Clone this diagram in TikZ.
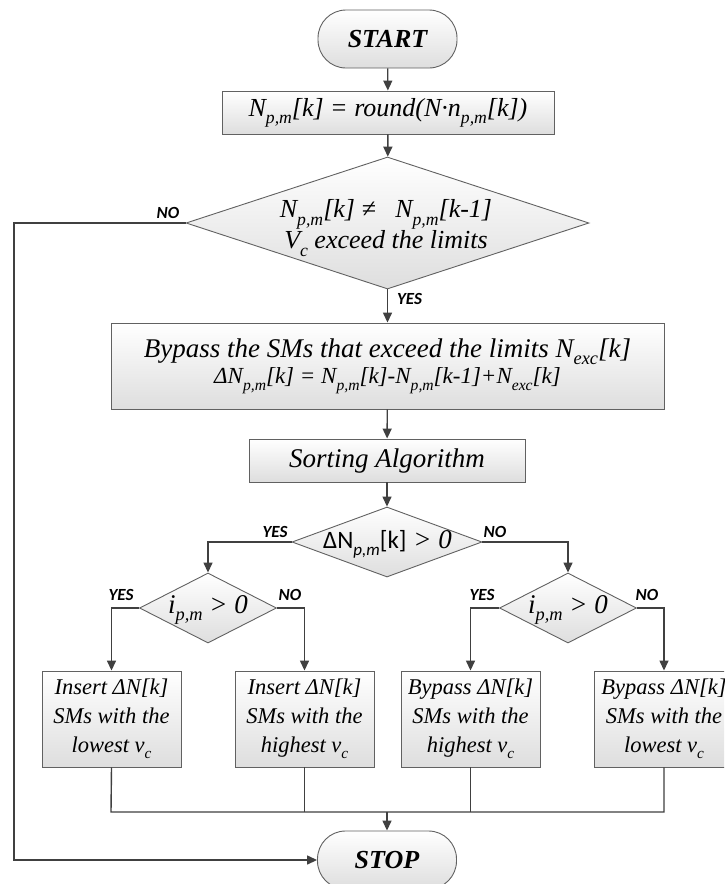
\documentclass[tikz,border=0pt]{standalone}
\usepackage{fontspec}
\usepackage{graphicx}
\setmainfont{Liberation Serif}
\newfontfamily\labfont{Carlito}
\usetikzlibrary{shapes.geometric,arrows.meta}
\newcommand\lo[1]{\raisebox{-0.28em}{\scalebox{0.68}{#1}}}
\newcommand\fsz[1]{\fontsize{#1}{#1}\selectfont}
\tikzset{
 boxshape/.style={draw=black!62, line width=0.9pt, top color=white, bottom color=black!13, inner sep=0pt, align=center},
 rbox/.style={boxshape, rectangle},
 term/.style={boxshape, rectangle, rounded corners=28pt, minimum width=139pt, minimum height=58pt, font=\fsz{26}\bfseries\itshape},
 dia/.style={boxshape, diamond},
 small/.style={rbox, minimum width=139pt, minimum height=96pt, font=\fontsize{22.5}{29}\selectfont\itshape},
 txt/.style={inner sep=0pt, align=center},
 conn/.style={draw=black!75, line width=1.4pt},
 arr/.style={conn, -{Triangle[length=10pt,width=9pt]}},
 yn/.style={font=\labfont\fsz{17}\bfseries\itshape, inner sep=0pt},
}
\begin{document}
\begin{tikzpicture}[x=1pt,y=-1pt]
\useasboundingbox (0,0) rectangle (724,884);
\clip (0,0) rectangle (724,884);
\fill[white] (0,0) rectangle (724,884);

% nodes
\node[term] (start) at (387.5,39) {START};
\node[rbox, minimum width=332pt, minimum height=43pt, font=\fsz{26}\itshape] (b1) at (388,112.5) {N\lo{p,m}[k] = round(N·n\lo{p,m}[k])};
\node[dia, minimum width=403pt, minimum height=132pt] (d1) at (387.5,223) {};
\node[txt, font=\fontsize{26}{31}\selectfont\itshape] (d1t) at (386,228) {N\lo{p,m}[k] ≠ \ \ N\lo{p,m}[k-1]\\V\lo{c} exceed the limits};
\node[rbox, minimum width=553pt, minimum height=86pt] (b2) at (387.5,366)
 {{\fontsize{27}{30}\selectfont\itshape Bypass the SMs that exceed the limits N\lo{exc}[k]}\\[2pt]
  {\fontsize{23}{28}\selectfont\itshape ΔN\lo{p,m}[k] = N\lo{p,m}[k]-N\lo{p,m}[k-1]+N\lo{exc}[k]}};
\node[rbox, minimum width=276pt, minimum height=43pt, font=\fsz{27}\itshape] (b3) at (387,460.5) {Sorting Algorithm};
\node[dia, minimum width=190pt, minimum height=70pt] (d2) at (387,542) {};
\node[txt] (d2t) at (387.5,544) {{\labfont\fsz{25}ΔN\lo{\itshape p,m}[k]}{\fsz{27}\itshape\ > 0}};
\node[dia, minimum width=137pt, minimum height=70pt] (d3) at (208,608) {};
\node[txt, font=\fsz{27}\itshape] (d3t) at (208,610) {i\lo{p,m} > 0};
\node[dia, minimum width=137pt, minimum height=70pt] (d4) at (568,608) {};
\node[txt, font=\fsz{27}\itshape] (d4t) at (568,610) {i\lo{p,m} > 0};

\node[small] (s1) at (111.5,719) {Insert ΔN[k]\\SMs with the\\lowest v\lo{c}};
\node[small] (s2) at (304.5,719) {Insert ΔN[k]\\SMs with the\\highest v\lo{c}};
\node[small] (s3) at (470.5,719) {Bypass ΔN[k]\\SMs with the\\highest v\lo{c}};
\node[small] (s4) at (664,719) {Bypass ΔN[k]\\SMs with the\\lowest v\lo{c}};

\node[term] (stop) at (387,860) {STOP};

% junction coordinates
\coordinate (noL) at (14,223);
\coordinate (noB) at (14,860);
\coordinate (j1) at (111,812);
\coordinate (j2) at (304.5,812);
\coordinate (j3) at (470.5,812);
\coordinate (j4) at (664,812);
\coordinate (jm) at (387,812);

% connectors
\draw[arr] (start) -- (b1);
\draw[arr] (b1) -- (d1);
\draw[arr] (d1) -- (b2);
\draw[arr] (b2) -- (b3);
\draw[arr] (b3) -- (d2);
\draw[arr] (d2.west) -| (d3.north);
\draw[arr] (d2.east) -| (d4.north);
\draw[arr] (d3.west) -| (s1.north);
\draw[arr] (d3.east) -| (s2.north);
\draw[arr] (d4.west) -| (s3.north);
\draw[arr] (d4.east) -| (s4.north);
\draw[conn] (s1.south) -- (j1) -- (j4) -- (s4.south);
\draw[conn] (s2.south) -- (j2);
\draw[conn] (s3.south) -- (j3);
\draw[arr] (jm) -- (stop);
\draw[arr] (d1.west) -- (noL) -- (noB) -- (stop.west);

% labels
\node[yn] (lno1) at (168,213) {NO};
\node[yn] (lyes1) at (409.5,299) {YES};
\node[yn] (lyes2) at (275,532) {YES};
\node[yn] (lno2) at (495,532) {NO};
\node[yn] (lyes3) at (121,595) {YES};
\node[yn] (lno3) at (290,595) {NO};
\node[yn] (lyes4) at (482,595) {YES};
\node[yn] (lno4) at (647,595) {NO};
\end{tikzpicture}
\end{document}
